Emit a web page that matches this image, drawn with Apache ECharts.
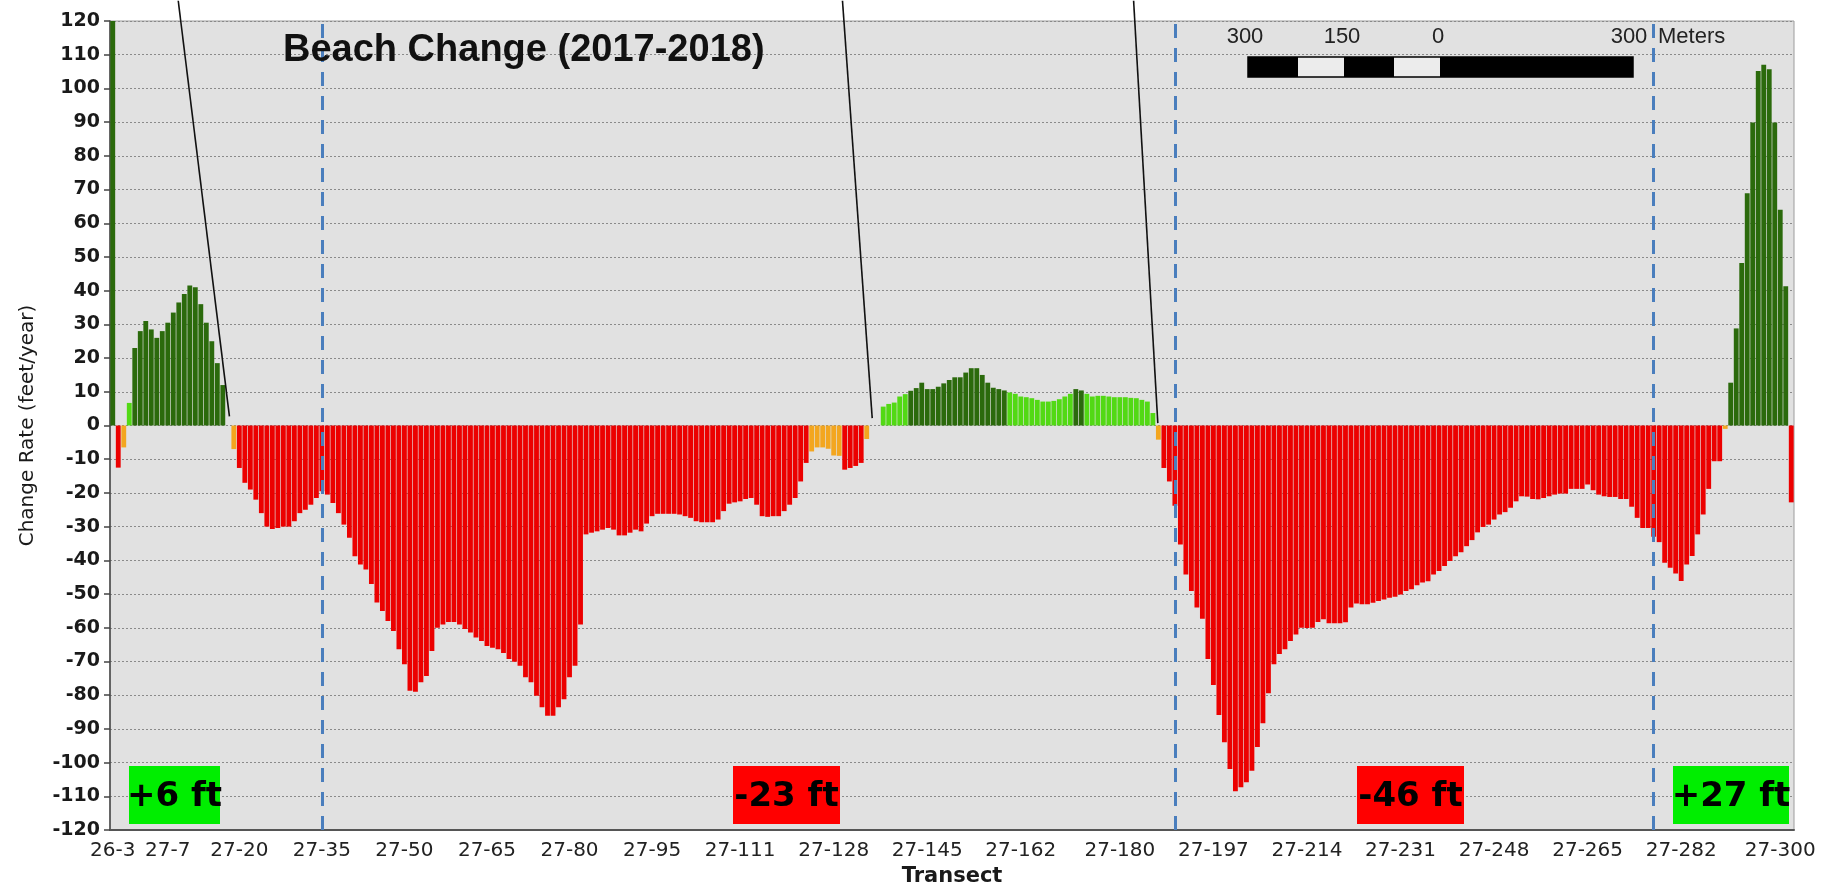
<!DOCTYPE html>
<html>
<head>
<meta charset="utf-8">
<title>Beach Change (2017-2018)</title>
<script src="https://cdn.jsdelivr.net/npm/echarts/dist/echarts.min.js"></script>
<style>
  html, body { margin: 0; padding: 0; background: #fff; }
  #chart { width: 1822px; height: 892px; }
</style>
</head>
<body>
<div id="chart"></div>
<script>
// transect names along the shore (26-3 .. 26-1, then 27-0 .. 27-302)
var transects = ['26-3', '26-2', '26-1'];
for (var t = 0; t <= 302; t++) transects.push('27-' + t);

// transects that get a tick + label on the x axis
var tickLabels = ['26-3', '27-7', '27-20', '27-35', '27-50', '27-65', '27-80', '27-95',
  '27-111', '27-128', '27-145', '27-162', '27-180', '27-197', '27-214', '27-231',
  '27-248', '27-265', '27-282', '27-300'];

// change rate, feet/year, one value per transect
var changeRate = [
  128, -12.5, -6.5, 6.7, 23, 28, 31, 28.5, 26, 28,
  30.5, 33.5, 36.5, 39, 41.5, 41, 36, 30.5, 25, 18.5,
  12, 0, -7, -12.6, -17, -19, -22, -26, -30, -30.7,
  -30.4, -30, -30, -28.4, -26, -25, -23.5, -21.5, -19.5, -20.5,
  -23, -26, -29.4, -33.3, -38.8, -41.2, -42.7, -47, -52.5, -55,
  -58, -61, -66.4, -70.8, -78.7, -79, -76.2, -74.3, -66.9, -60,
  -59, -58.3, -58.3, -59, -60.4, -61.4, -62.9, -63.9, -65.4, -65.9,
  -66.4, -67.5, -69.3, -70.1, -71.3, -74.7, -76.2, -80.2, -83.6, -86.1,
  -86.1, -83.6, -81.2, -74.7, -71.3, -59, -32.3, -31.8, -31.4, -30.9,
  -30.4, -30.9, -32.6, -32.6, -31.8, -30.9, -31.4, -29.1, -26.9, -26.2,
  -26.2, -26.2, -26.2, -26.4, -26.9, -27.4, -28.4, -28.7, -28.7, -28.7,
  -27.9, -25.4, -23.2, -22.8, -22.5, -21.8, -21.5, -23.5, -26.9, -27.1,
  -26.9, -26.9, -25.4, -23.5, -21.5, -16.6, -11.1, -7.7, -6.5, -6.5,
  -6.9, -8.9, -9, -13.1, -12.6, -12, -11.1, -4, 0, 0,
  5.6, 6.4, 6.8, 8.6, 9.3, 10.3, 11.1, 12.7, 10.8, 10.8,
  11.5, 12.5, 13.5, 14.3, 14.3, 15.7, 17, 17, 15, 12.7,
  11.2, 10.8, 10.4, 9.8, 9.4, 8.6, 8.4, 8.1, 7.6, 7.1,
  7.1, 7.3, 7.8, 8.6, 9.4, 10.8, 10.4, 9.4, 8.6, 8.8,
  8.8, 8.6, 8.4, 8.4, 8.4, 8.2, 8.1, 7.6, 7.1, 3.7,
  -4.2, -12.6, -16.6, -23.8, -35.3, -44.2, -49.1, -54, -57.3, -69.3,
  -77, -85.9, -94, -101.9, -108.5, -107.3, -105.8, -102.4, -95.4, -88.3,
  -79.4, -70.8, -67.8, -66.4, -63.9, -62, -60, -60.1, -60, -58.3,
  -57.5, -58.7, -58.7, -58.7, -58.4, -54, -52.8, -53, -53, -52.6,
  -52.1, -51.6, -51.1, -50.8, -50.1, -49.1, -48.6, -47.4, -46.6, -46.2,
  -44.2, -43.2, -41.7, -40.2, -38.8, -37.6, -35.8, -34, -31.7, -30.1,
  -29.4, -27.9, -26.4, -25.7, -24.4, -22.5, -21, -21.1, -21.8, -21.9,
  -21.5, -21, -20.5, -20.2, -20.2, -18.8, -18.8, -18.8, -17.5, -19.2,
  -20.5, -21, -21.2, -21.2, -21.8, -21.8, -24.1, -27.4, -30.4, -30.4,
  -33, -34.6, -40.7, -42.2, -43.9, -46.1, -41.2, -38.7, -32.3, -26.4,
  -18.8, -10.6, -10.6, -1, 12.7, 28.8, 48.2, 68.9, 89.9, 105.2,
  107, 105.7, 89.9, 64, 41.3, -22.8
];

// section boundaries (blue dashed lines)
var dividers = ['27-35', '27-190', '27-277'];

// net change per section
var sectionNet = ['+6 ft', '-23 ft', '-46 ft', '+27 ft'];

function barColor(v) {
  if (v >= 10) return '#2b6a0c';
  if (v >= 0) return '#52d914';
  if (v >= -10) return '#f3a61f';
  return '#ec0000';
}

function showTick(index, value) {
  return tickLabels.indexOf(value) >= 0;
}

var chart = echarts.init(document.getElementById('chart'));

var option = {
  animation: false,
  grid: {
    left: 110, right: 28, top: 21, bottom: 60,
    show: true, backgroundColor: '#e1e1e1', borderColor: '#9c9c9c', borderWidth: 1
  },
  xAxis: {
    type: 'category',
    data: transects,
    name: 'Transect',
    nameLocation: 'middle',
    nameGap: 36,
    nameTextStyle: { fontFamily: 'DejaVu Sans', fontWeight: 'bold', fontSize: 21, color: '#1a1a1a' },
    axisLine: { onZero: false, lineStyle: { color: '#555', width: 2 } },
    axisTick: { interval: showTick, alignWithLabel: true, length: 5, lineStyle: { color: '#555', width: 1.5 } },
    axisLabel: { interval: showTick, margin: 11, fontFamily: 'DejaVu Sans', fontSize: 20, color: '#222' },
    splitLine: { show: false }
  },
  yAxis: {
    type: 'value',
    min: -120, max: 120, interval: 10,
    name: 'Change Rate (feet/year)',
    nameLocation: 'middle',
    nameGap: 72,
    nameTextStyle: { fontFamily: 'DejaVu Sans', fontSize: 20, color: '#1a1a1a' },
    axisLine: { show: true, lineStyle: { color: '#444', width: 1.5 } },
    axisTick: { show: true, length: 6, lineStyle: { color: '#444', width: 1.5 } },
    axisLabel: { margin: 10, fontFamily: 'DejaVu Sans', fontWeight: 'bold', fontSize: 19, color: '#1a1a1a' },
    splitLine: { lineStyle: { color: '#8a8a8a', type: [2, 2], width: 1 } }
  },
  series: [{
    type: 'bar',
    clip: true,
    barCategoryGap: '12%',
    data: changeRate.map(function (v) {
      return { value: v, itemStyle: { color: barColor(v) } };
    }),
    markLine: {
      silent: true,
      symbol: ['none', 'none'],
      label: { show: false },
      lineStyle: { color: '#4a7ebd', width: 3, type: [14, 10] },
      data: dividers.map(function (d) { return { xAxis: d }; })
    }
  }]
};

chart.setOption(option);

// point on the chart at a (possibly fractional) category index
function catPoint(ci, v) {
  var i0 = Math.floor(ci), f = ci - i0;
  var a = chart.convertToPixel({ gridIndex: 0 }, [i0, v]);
  var b = chart.convertToPixel({ gridIndex: 0 }, [i0 + 1, v]);
  return [a[0] + (b[0] - a[0]) * f, a[1]];
}

// leader lines coming down from the map above: [index, value] -> [index, value]
var callouts = [[11.9, 126, 21.2, 2.7], [132.6, 126, 138.0, 2.2], [185.5, 126, 189.9, 0.7]];

var graphics = [];

callouts.forEach(function (c) {
  var p1 = catPoint(c[0], c[1]), p2 = catPoint(c[2], c[3]);
  graphics.push({
    type: 'line', z: 60,
    shape: { x1: p1[0], y1: p1[1], x2: p2[0], y2: p2[1] },
    style: { stroke: '#111', lineWidth: 1.6 }
  });
});

// title inside the plot
graphics.push({
  type: 'text', z: 60, x: 283, y: 51,
  style: { text: 'Beach Change (2017-2018)', font: 'bold 38px "Liberation Sans", Arial', fill: '#111', align: 'left', verticalAlign: 'middle' }
});

// scale bar
var sbTexts = [['300', 1245], ['150', 1342], ['0', 1438], ['300', 1629]];
sbTexts.forEach(function (s) {
  graphics.push({
    type: 'text', z: 60, x: s[1], y: 37,
    style: { text: s[0], font: '22px "Liberation Sans", Arial', fill: '#222', align: 'center', verticalAlign: 'middle' }
  });
});
graphics.push({
  type: 'text', z: 60, x: 1658, y: 37,
  style: { text: 'Meters', font: '22px "Liberation Sans", Arial', fill: '#222', align: 'left', verticalAlign: 'middle' }
});
var sbBlocks = [[1248, 1298, '#000'], [1298, 1344, '#ececec'], [1344, 1394, '#000'], [1394, 1440, '#ececec'], [1440, 1633, '#000']];
sbBlocks.forEach(function (b) {
  graphics.push({
    type: 'rect', z: 60,
    shape: { x: b[0], y: 57, width: b[1] - b[0], height: 20 },
    style: { fill: b[2] }
  });
});
graphics.push({
  type: 'rect', z: 61,
  shape: { x: 1248, y: 57, width: 385, height: 20 },
  style: { fill: 'none', stroke: '#000', lineWidth: 1.5 }
});

// net change boxes
var boxes = [[129, 91, '#00ee00'], [733, 107, '#ff0000'], [1357, 107, '#ff0000'], [1673, 116, '#00ee00']];
boxes.forEach(function (b, i) {
  graphics.push({
    type: 'rect', z: 60,
    shape: { x: b[0], y: 766, width: b[1], height: 58 },
    style: { fill: b[2] }
  });
  graphics.push({
    type: 'text', z: 61, x: b[0] + b[1] / 2, y: 797,
    style: { text: sectionNet[i], font: 'bold 34px "DejaVu Sans"', fill: '#000', align: 'center', verticalAlign: 'middle' }
  });
});

chart.setOption({ graphic: graphics });
</script>
</body>
</html>
